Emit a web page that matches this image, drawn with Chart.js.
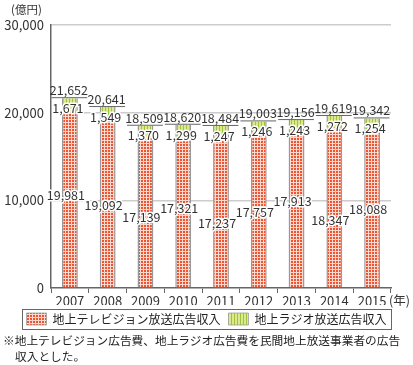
<!DOCTYPE html>
<html>
<head>
<meta charset="utf-8">
<script src="https://cdn.jsdelivr.net/npm/chart.js@4/dist/chart.umd.min.js"></script>
<style>
  body { margin: 0; background: #fff; }
  #wrap { position: relative; width: 413px; height: 365px; }
  #chart { position: absolute; left: 0; top: 0; }
  #note { position: absolute; left: 3px; top: 332px; font: 11.7px "Noto Sans CJK JP"; color: #222; line-height: 16px; white-space: nowrap; }
  #note .l2 { padding-left: 12px; }
</style>
</head>
<body>
<div id="wrap">
  <canvas id="chart" width="413" height="335"></canvas>
  <div id="note">※地上テレビジョン広告費、地上ラジオ広告費を民間地上放送事業者の広告<br><span class="l2">収入とした。</span></div>
</div>
<script>
const years = ["2007", "2008", "2009", "2010", "2011", "2012", "2013", "2014", "2015"];
const tvValues = [19981, 19092, 17139, 17321, 17237, 17757, 17913, 18347, 18088];
const radioValues = [1671, 1549, 1370, 1299, 1247, 1246, 1243, 1272, 1254];
const totalValues = [21652, 20641, 18509, 18620, 18484, 19003, 19156, 19619, 19342];
const yTicks = [0, 10000, 20000, 30000];
// where the TV label sits on the bar (in axis units)
const tvLabelAt = [10600, 9460, 8100, 9120, 7410, 8670, 9920, 7750, 9010];

const FONT = '"Noto Sans CJK JP", "Noto Sans", sans-serif';
const LEGEND_FONT = 12, LEGEND_BOX = 20, LEGEND_PAD = 8;

function makePattern(kind) {
    const c = document.createElement("canvas");
    const g = c.getContext("2d");
    c.width = 3; c.height = 3;
    if (kind === "tv") {
        g.fillStyle = "#fbd9cf";
        g.fillRect(0, 0, 3, 3);
        g.fillStyle = "#ef5432";
        g.fillRect(0, 0, 2, 2);
    } else {
        g.fillStyle = "#dde98f";
        g.fillRect(0, 0, 3, 3);
        g.fillStyle = "#9cc43c";
        g.fillRect(0, 0, 1, 3);
    }
    return g.createPattern(c, "repeat");
}

const fmt = v => v.toLocaleString("en-US");

function haloText(ctx, text, x, y) {
    ctx.lineWidth = 3;
    ctx.strokeStyle = "#fff";
    ctx.lineJoin = "round";
    ctx.strokeText(text, x, y);
    ctx.fillText(text, x, y);
}

const labelPlugin = {
    id: "labels",
    afterDatasetsDraw(chart) {
        const ctx = chart.ctx;
        const y = chart.scales.y;
        const tv = chart.getDatasetMeta(0).data;
        const radio = chart.getDatasetMeta(1).data;
        const cw = chart.chartArea.width / years.length;
        ctx.save();
        ctx.font = "12.5px " + FONT;
        ctx.fillStyle = "#333";
        ctx.textAlign = "center";
        years.forEach((yr, i) => {
            const x = radio[i].x;
            const top = y.getPixelForValue(totalValues[i]);
            // total with underline
            ctx.textBaseline = "alphabetic";
            ctx.fillText(fmt(totalValues[i]), x - 1, top - 3);
            ctx.strokeStyle = "#666";
            ctx.lineWidth = 1;
            ctx.beginPath();
            ctx.moveTo(x - cw / 2 + 0.5, top - 0.5);
            ctx.lineTo(x + cw / 2 - 1.5, top - 0.5);
            ctx.stroke();
            // radio
            ctx.textBaseline = "middle";
            haloText(ctx, fmt(radioValues[i]), x - 2, top + 10);
            // tv
            haloText(ctx, fmt(tvValues[i]), tv[i].x - 4, y.getPixelForValue(tvLabelAt[i]));
        });
        ctx.restore();
    },
    afterDraw(chart) {
        const ctx = chart.ctx;
        const a = chart.chartArea;
        ctx.save();
        ctx.font = "11.5px " + FONT;
        ctx.fillStyle = "#333";
        ctx.textBaseline = "middle";
        ctx.textAlign = "left";
        ctx.fillText("(億円)", 11, 10);
        ctx.font = "12.5px " + FONT;
        ctx.fillText("(年)", a.right - 2, a.bottom + 12);
        // legend frame, sized from the legend texts
        const lg = chart.legend;
        const hb = lg.legendHitBoxes;
        if (hb && hb.length) {
            ctx.font = LEGEND_FONT + "px " + FONT;
            const items = chart.data.datasets.map(d => LEGEND_BOX + LEGEND_FONT / 2 + ctx.measureText(d.label).width);
            const w = items.reduce((s, v) => s + v, 0) + LEGEND_PAD * (items.length - 1);
            const cx = (lg.left + lg.right) / 2;
            const l = cx - w / 2 - 4, r = cx + w / 2 + 5;
            const t = hb[0].top - 4, b = hb[0].top + hb[0].height + 4;
            ctx.strokeStyle = "#666";
            ctx.lineWidth = 1;
            ctx.strokeRect(Math.round(l) + 0.5, Math.round(t) + 0.5, Math.round(r - l), Math.round(b - t));
        }
        ctx.restore();
    }
};

const ctxP = document.getElementById("chart").getContext("2d");
new Chart(ctxP, {
    type: "bar",
    data: {
        labels: years,
        datasets: [{
            label: "地上テレビジョン放送広告収入",
            data: tvValues,
            backgroundColor: makePattern("tv"),
            borderColor: "#999",
            borderWidth: { left: 1.5, right: 1.5, top: 0, bottom: 0 },
            borderSkipped: false,
        }, {
            label: "地上ラジオ放送広告収入",
            data: radioValues,
            backgroundColor: makePattern("radio"),
            borderColor: "#999",
            borderWidth: { left: 1.5, right: 1.5, top: 0, bottom: 0 },
            borderSkipped: false,
        }],
    },
    options: {
        responsive: false,
        animation: false,
        devicePixelRatio: 1,
        categoryPercentage: 1,
        barPercentage: 0.42,
        layout: { padding: { left: 0, right: 0, top: 25, bottom: 0 } },
        plugins: {
            tooltip: { enabled: false },
            legend: {
                position: "bottom",
                labels: {
                    font: { family: FONT, size: LEGEND_FONT },
                    color: "#222",
                    boxWidth: LEGEND_BOX,
                    boxHeight: 12,
                    padding: LEGEND_PAD,
                },
            },
        },
        scales: {
            x: {
                stacked: true,
                afterFit: s => { s.height = 17; },
                grid: {
                    offset: true,
                    drawOnChartArea: false,
                    drawTicks: true,
                    tickLength: 5,
                    tickColor: "#666",
                    tickWidth: 1,
                },
                border: { color: "#666", width: 1.5 },
                ticks: { font: { family: FONT, size: 13 }, color: "#333", padding: 0 },
            },
            y: {
                stacked: true,
                min: 0,
                max: 30000,
                afterFit: s => { s.width = 51; },
                afterBuildTicks: s => { s.ticks = yTicks.map(v => ({ value: v })); },
                grid: {
                    color: c => c.tick && c.tick.value === 0 ? "rgba(0,0,0,0)" : "#ccc",
                    lineWidth: 1.5,
                    drawTicks: false,
                },
                border: { color: "#666", width: 1.5 },
                ticks: {
                    font: { family: FONT, size: 13 },
                    color: "#333",
                    padding: 7,
                    callback: v => fmt(v),
                },
            },
            // empty right-hand strip so the plot ends where the original does
            yRight: {
                position: "right",
                min: 0,
                max: 30000,
                afterFit: s => { s.width = 22; },
                grid: { display: false, drawTicks: false },
                border: { display: false },
                ticks: { display: false },
            },
        },
    },
    plugins: [labelPlugin],
});
</script>
</body>
</html>
